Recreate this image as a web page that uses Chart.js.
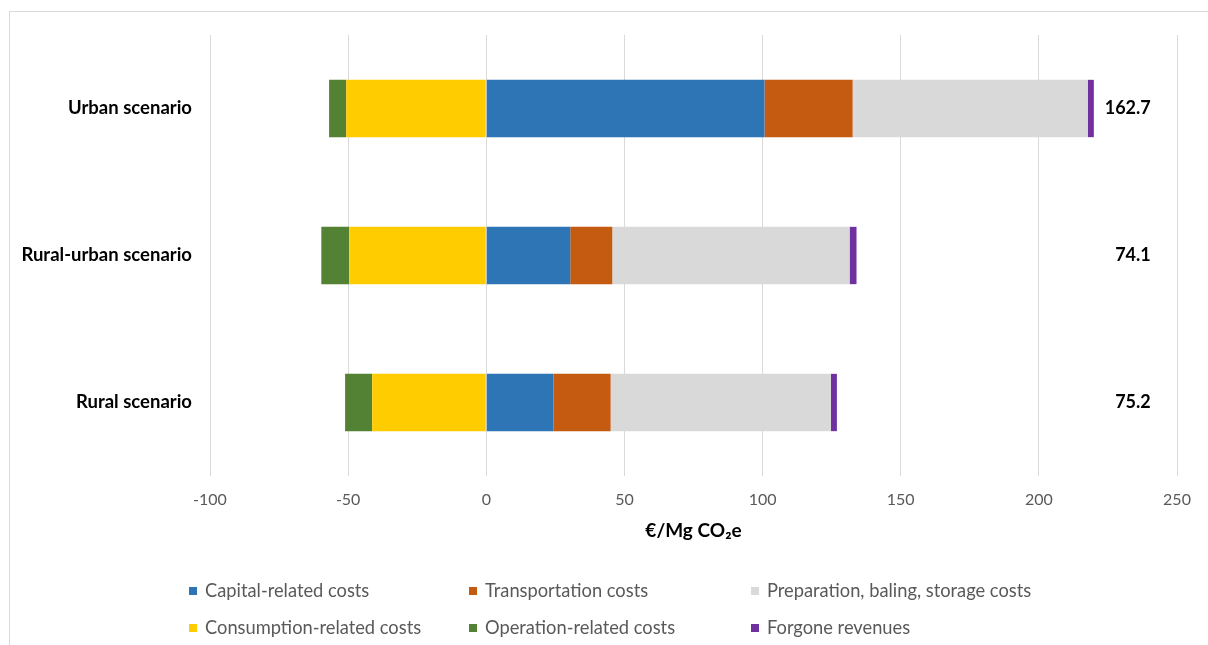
<!DOCTYPE html>
<html>
<head>
<meta charset="utf-8">
<script src="https://cdn.jsdelivr.net/npm/chart.js@4"></script>
<style>
  body { margin: 0; background: #fff; }
  #wrap { position: relative; width: 1208px; height: 645px; overflow: hidden; font-family: Lato, sans-serif; }
  #frame { position: absolute; left: 9px; top: 11px; width: 1300px; height: 700px; border: 1px solid #d9d9d9; }
  #myChart { position: absolute; left: 0; top: 0; }
  .leg { position: absolute; font-size: 18.3px; color: #595959; white-space: nowrap; line-height: 20px; }
  .leg span { display: inline-block; width: 8px; height: 8px; margin-right: 8px; vertical-align: 2px; }
</style>
</head>
<body>
<div id="wrap">
  <div id="frame"></div>
  <canvas id="myChart" width="1208" height="645"></canvas>
  <div id="legend"></div>
</div>
<script>
// données (€/Mg CO2e)
const categories = ["Urban scenario", "Rural-urban scenario", "Rural scenario"];
const capital = [100.7, 30.4, 24.3];
const transport = [31.9, 15.2, 20.7];
const preparation = [85.1, 85.9, 79.7];
const consumption = [-50.7, -49.6, -41.3];
const operation = [-6.2, -10.1, -9.8];
const forgone = [2.2, 2.5, 2.2];
const totals = ["162.7", "74.1", "75.2"];
const xMin = -100, xMax = 250, xStep = 50;

const seriesNames = [
  "Capital-related costs", "Transportation costs", "Preparation, baling, storage costs",
  "Consumption-related costs", "Operation-related costs", "Forgone revenues"
];
const seriesData = [capital, transport, preparation, consumption, operation, forgone];
const seriesColors = ["#2E75B6", "#C55A11", "#D9D9D9", "#FFCC00", "#548235", "#7030A0"];

const datasets = [];
for (let i = 0; i < seriesNames.length; i++) {
  datasets.push({
    label: seriesNames[i],
    data: seriesData[i],
    backgroundColor: seriesColors[i],
    borderWidth: 0,
    barPercentage: 0.39,
    categoryPercentage: 1
  });
}

// étiquettes des totaux à droite des barres
const totalsPlugin = {
  id: "totals",
  afterDatasetsDraw(chart) {
    const ctx = chart.ctx;
    const xs = chart.scales.x, ys = chart.scales.y;
    ctx.save();
    ctx.font = "bold 18px Lato, sans-serif";
    ctx.fillStyle = "#000";
    ctx.textAlign = "right";
    ctx.textBaseline = "middle";
    totals.forEach((t, i) => {
      ctx.fillText(t, xs.getPixelForValue(240.5), ys.getPixelForValue(i));
    });
    ctx.restore();
  }
};

const config = {
  type: "bar",
  data: { labels: categories, datasets: datasets },
  options: {
    indexAxis: "y",
    responsive: false,
    animation: false,
    layout: { padding: { top: 35, right: 31, bottom: 99, left: 0 } },
    plugins: { legend: { display: false }, tooltip: { enabled: false } },
    scales: {
      x: {
        stacked: true,
        min: xMin,
        max: xMax,
        ticks: { stepSize: xStep, color: "#595959", font: { family: "Lato", size: 16 }, padding: 14 },
        grid: { color: "#d9d9d9", drawTicks: false },
        border: { display: false },
        title: { display: true, text: "€/Mg CO₂e", color: "#000", font: { family: "Lato", size: 19, weight: "bold" } },
        afterFit: (s) => { s.height = 70; }
      },
      y: {
        stacked: true,
        grid: { display: false, drawTicks: false },
        border: { display: false },
        ticks: { color: "#000", font: { family: "Lato", size: 18.5, weight: "bold" }, padding: 18 },
        afterFit: (s) => { s.width = 210; }
      }
    }
  },
  plugins: [totalsPlugin]
};

let chart = new Chart(document.getElementById("myChart").getContext("2d"), config);

// légende en 3 colonnes
const legCols = [189, 469, 751];
const legRows = [580, 617];
let legend = document.getElementById("legend");
chart.data.datasets.forEach((d, i) => {
  let item = document.createElement("div");
  item.className = "leg";
  item.style.left = legCols[i % 3] + "px";
  item.style.top = legRows[Math.floor(i / 3)] + "px";
  item.innerHTML = '<span style="background:' + d.backgroundColor + '"></span>' + d.label;
  legend.appendChild(item);
});
</script>
</body>
</html>
